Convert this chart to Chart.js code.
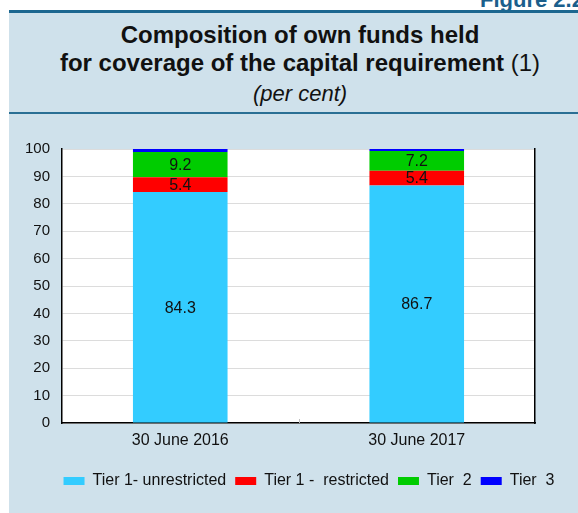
<!DOCTYPE html>
<html>
<head>
<meta charset="utf-8">
<script src="https://cdn.jsdelivr.net/npm/chart.js@4/dist/chart.umd.min.js"></script>
<style>
  html, body { margin: 0; padding: 0; background: #ffffff; width: 578px; height: 513px; overflow: hidden; position: relative; font-family: "Liberation Sans", Arial, sans-serif; }
  #fig { position: absolute; left: 480px; top: -11px; font-size: 22px; line-height: 22px; font-weight: bold; color: #1b5f8c; white-space: nowrap; }
  #panel { position: absolute; left: 9px; top: 10px; width: 600px; height: 510px; background: #cfe1eb; border-top: 3px solid #1c6790; }
  #head { position: absolute; left: 0; top: 0; width: 582px; height: 99px; border-bottom: 2px solid #2a6f94; text-align: center; color: #111; }
  #t1 { position: absolute; left: 0; right: 0; top: 8px; font-size: 24px; font-weight: bold; line-height: 28px; }
  #t2 { position: absolute; left: 0; right: 0; top: 36px; font-size: 24px; font-weight: bold; line-height: 28px; }
  #t2 span { font-weight: normal; }
  #t3 { position: absolute; left: 0; right: 0; top: 68px; font-size: 22px; font-style: italic; line-height: 26px; }
  #wrap { position: absolute; left: 9px; top: 114px; width: 600px; height: 399px; }
</style>
</head>
<body>
<div id="fig">Figure 2.2</div>
<div id="panel">
  <div id="head">
    <div id="t1">Composition of own funds held</div>
    <div id="t2">for coverage of the capital requirement <span>(1)</span></div>
    <div id="t3">(per cent)</div>
  </div>
</div>
<div id="wrap"><canvas id="c" width="600" height="399"></canvas></div>
<script>
// Dates of the two observations
const categories = ['30 June 2016', '30 June 2017'];

// Share of each tier in own funds (per cent)
const tier1Unrestricted = [84.3, 86.7];
const tier1Restricted = [5.4, 5.4];
const tier2 = [9.2, 7.2];
const tier3 = [1.1, 0.7];

const seriesNames = ['Tier 1- unrestricted', 'Tier 1 -  restricted', 'Tier  2', 'Tier  3'];
const seriesColors = ['#33ccff', '#ff0000', '#00cc00', '#0000ff'];

// Value labels are written on the first three tiers only
const labelledSeries = [true, true, true, false];

const FONT = '"Liberation Sans", Arial, sans-serif';

// White plotting area behind the bars
const plotBackground = {
  id: 'plotBackground',
  beforeDraw(chart) {
    const { ctx, chartArea: a } = chart;
    ctx.save();
    ctx.fillStyle = '#ffffff';
    ctx.fillRect(a.left, a.top, a.right - a.left, a.bottom - a.top);
    ctx.restore();
  }
};

// Short tick at the boundary between the two categories, rising from the x axis
const categoryDivider = {
  id: 'categoryDivider',
  afterDraw(chart) {
    const { ctx, chartArea: a } = chart;
    const x = chart.scales.x;
    const mid = (x.getPixelForValue(0) + x.getPixelForValue(1)) / 2;
    ctx.save();
    ctx.strokeStyle = '#bdbdbd';
    ctx.lineWidth = 1;
    ctx.beginPath();
    ctx.moveTo(Math.round(mid) + 0.5, a.bottom);
    ctx.lineTo(Math.round(mid) + 0.5, a.bottom - 4);
    ctx.stroke();
    ctx.restore();
  }
};

// Writes each segment's value at the middle of its bar segment
const segmentValues = {
  id: 'segmentValues',
  afterDatasetsDraw(chart) {
    const { ctx } = chart;
    ctx.save();
    ctx.font = '16px ' + FONT;
    ctx.fillStyle = '#111111';
    ctx.textAlign = 'center';
    ctx.textBaseline = 'middle';
    chart.data.datasets.forEach((ds, i) => {
      if (!labelledSeries[i]) return;
      const meta = chart.getDatasetMeta(i);
      meta.data.forEach((bar, j) => {
        const v = ds.data[j];
        ctx.fillText(v.toFixed(1), bar.x, (bar.y + bar.base) / 2 + 1);
      });
    });
    ctx.restore();
  }
};

const seriesData = [tier1Unrestricted, tier1Restricted, tier2, tier3];

new Chart(document.getElementById('c'), {
  type: 'bar',
  data: {
    labels: categories,
    datasets: seriesData.map((d, i) => ({
      label: seriesNames[i],
      data: d,
      backgroundColor: seriesColors[i],
      borderWidth: 0,
      categoryPercentage: 1.0,
      barPercentage: 0.4,
      yAxisID: 'y'
    }))
  },
  options: {
    responsive: false,
    animation: false,
    devicePixelRatio: 1,
    layout: { padding: { top: 35, bottom: 14, left: 0, right: 0 } },
    plugins: {
      title: { display: false },
      tooltip: { enabled: false },
      legend: {
        position: 'bottom',
        align: 'center',
        labels: {
          boxWidth: 21,
          boxHeight: 8,
          padding: 9,
          color: '#111111',
          font: { family: FONT, size: 16 }
        }
      }
    },
    scales: {
      x: {
        stacked: true,
        grid: { display: false, drawTicks: false },
        border: { display: true, color: '#000000', width: 1.5 },
        ticks: { color: '#111111', padding: 8, font: { family: FONT, size: 16 } },
        afterFit(scale) { scale.height = 41; }
      },
      y: {
        stacked: true,
        position: 'left',
        min: 0,
        max: 100,
        grid: { color: '#dcdcdc', lineWidth: 1, drawTicks: false },
        border: { display: true, color: '#000000', width: 1.5 },
        ticks: { stepSize: 10, padding: 12, color: '#111111', font: { family: FONT, size: 15 } },
        afterFit(scale) { scale.width = 53; }
      },
      y2: {
        position: 'right',
        min: 0,
        max: 100,
        grid: { display: false, drawTicks: false },
        border: { display: true, color: '#000000', width: 1.5 },
        ticks: { stepSize: 10, padding: 12, crossAlign: 'far', color: '#111111', font: { family: FONT, size: 15 } },
        afterFit(scale) { scale.width = 74; }
      }
    }
  },
  plugins: [plotBackground, categoryDivider, segmentValues]
});
</script>
</body>
</html>
